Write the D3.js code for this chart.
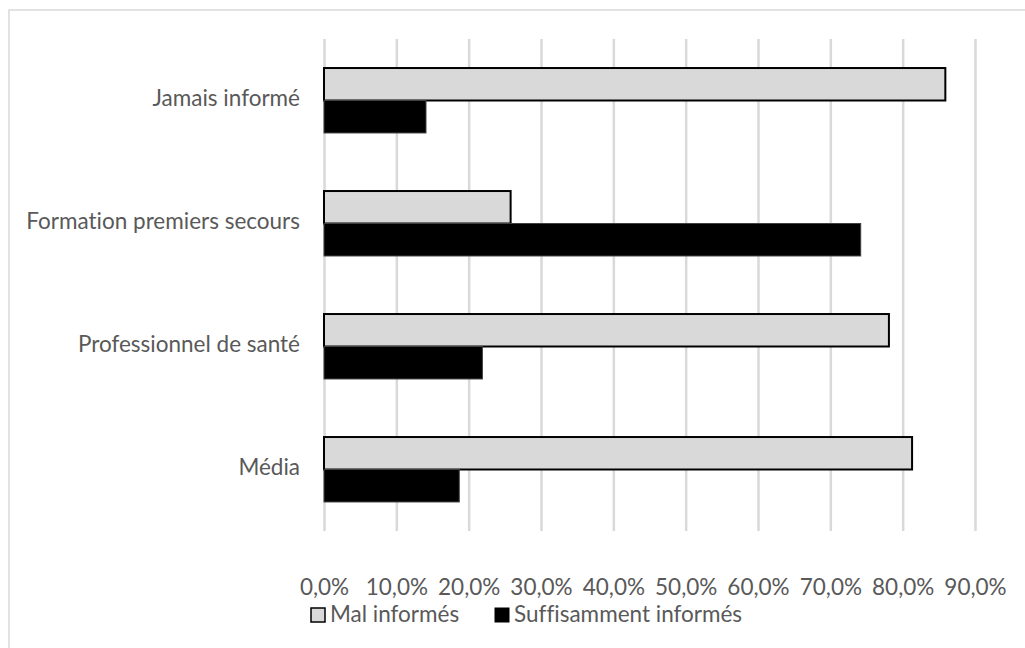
<!DOCTYPE html>
<html><head><meta charset="utf-8">
<script src="https://cdn.jsdelivr.net/npm/d3@7"></script>
<style>body{margin:0;background:#fff}svg{display:block}text{font-family:Lato,"Open Sans",sans-serif;font-variant-ligatures:none;font-feature-settings:"liga" 0}</style>
</head><body><svg id="c" width="1025" height="648"></svg>
<script>
const categories = ["Jamais informé","Formation premiers secours","Professionnel de santé","Média"];
const seriesNames = ["Mal informés","Suffisamment informés"];
const malInformes = [0.859,0.258,0.781,0.813];
const suffInformes = [0.141,0.742,0.219,0.187];
const tickValues = [0,0.1,0.2,0.3,0.4,0.5,0.6,0.7,0.8,0.9];

const FS = 22.5;
const svg = d3.select("#c");
svg.append("rect").attr("x",9).attr("y",10).attr("width",1030).attr("height",650)
  .attr("fill","none").attr("stroke","#d9d9d9").attr("stroke-width",1.5);

const x = d3.scaleLinear().domain([0,0.9]).range([324,975]);
const y = d3.scaleBand().domain(categories).range([39,531]).paddingInner(0.472).paddingOuter(0.236);
const y1 = d3.scaleBand().domain(seriesNames).range([0,y.bandwidth()]);

const fmt = v => d3.format(".1f")(v*100).replace(".",",")+"%";
const ax = svg.append("g").attr("transform","translate(0,39)")
  .call(d3.axisBottom(x).tickValues(tickValues).tickFormat(fmt).tickSize(492).tickPadding(0));
ax.select(".domain").remove();
ax.selectAll(".tick line").attr("stroke","#d9d9d9").attr("stroke-width",2.5);
ax.selectAll(".tick text").attr("y",550).attr("dy",0).attr("fill","#595959").attr("font-size",FS)
  .attr("font-family","Lato").attr("dominant-baseline","middle");

const data = categories.map((c,i)=>({c, vals:[{k:seriesNames[0],v:malInformes[i]},{k:seriesNames[1],v:suffInformes[i]}]}));
const colors = {"Mal informés":"#d9d9d9","Suffisamment informés":"#000000"};
const g = svg.append("g").selectAll("g").data(data).join("g")
  .attr("transform",d=>`translate(0,${y(d.c)})`);
g.selectAll("rect").data(d=>d.vals).join("rect")
  .attr("x",x(0)).attr("y",d=>y1(d.k)).attr("height",y1.bandwidth())
  .attr("width",d=>x(d.v)-x(0)).attr("fill",d=>colors[d.k])
  .attr("stroke",d=>d.k==="Mal informés"?"#000":"#404040").attr("stroke-width",d=>d.k==="Mal informés"?2:1);

svg.append("g").selectAll("text").data(categories).join("text")
  .attr("x",300).attr("y",d=>y(d)+y.bandwidth()/2).attr("text-anchor","end")
  .attr("dominant-baseline","middle").attr("fill","#595959").attr("font-size",FS).text(d=>d);

const leg = svg.append("g");
const items = [{k:seriesNames[0],x:311},{k:seriesNames[1],x:495}];
items.forEach(it=>{
  leg.append("rect").attr("x",it.x).attr("y",608).attr("width",14).attr("height",14)
    .attr("fill",colors[it.k]).attr("stroke","#000").attr("stroke-width",it.k==="Mal informés"?1.5:1);
  leg.append("text").attr("x",it.x+19).attr("y",616).attr("dominant-baseline","middle")
    .attr("fill","#595959").attr("font-size",FS).text(it.k);
});
</script></body></html>
